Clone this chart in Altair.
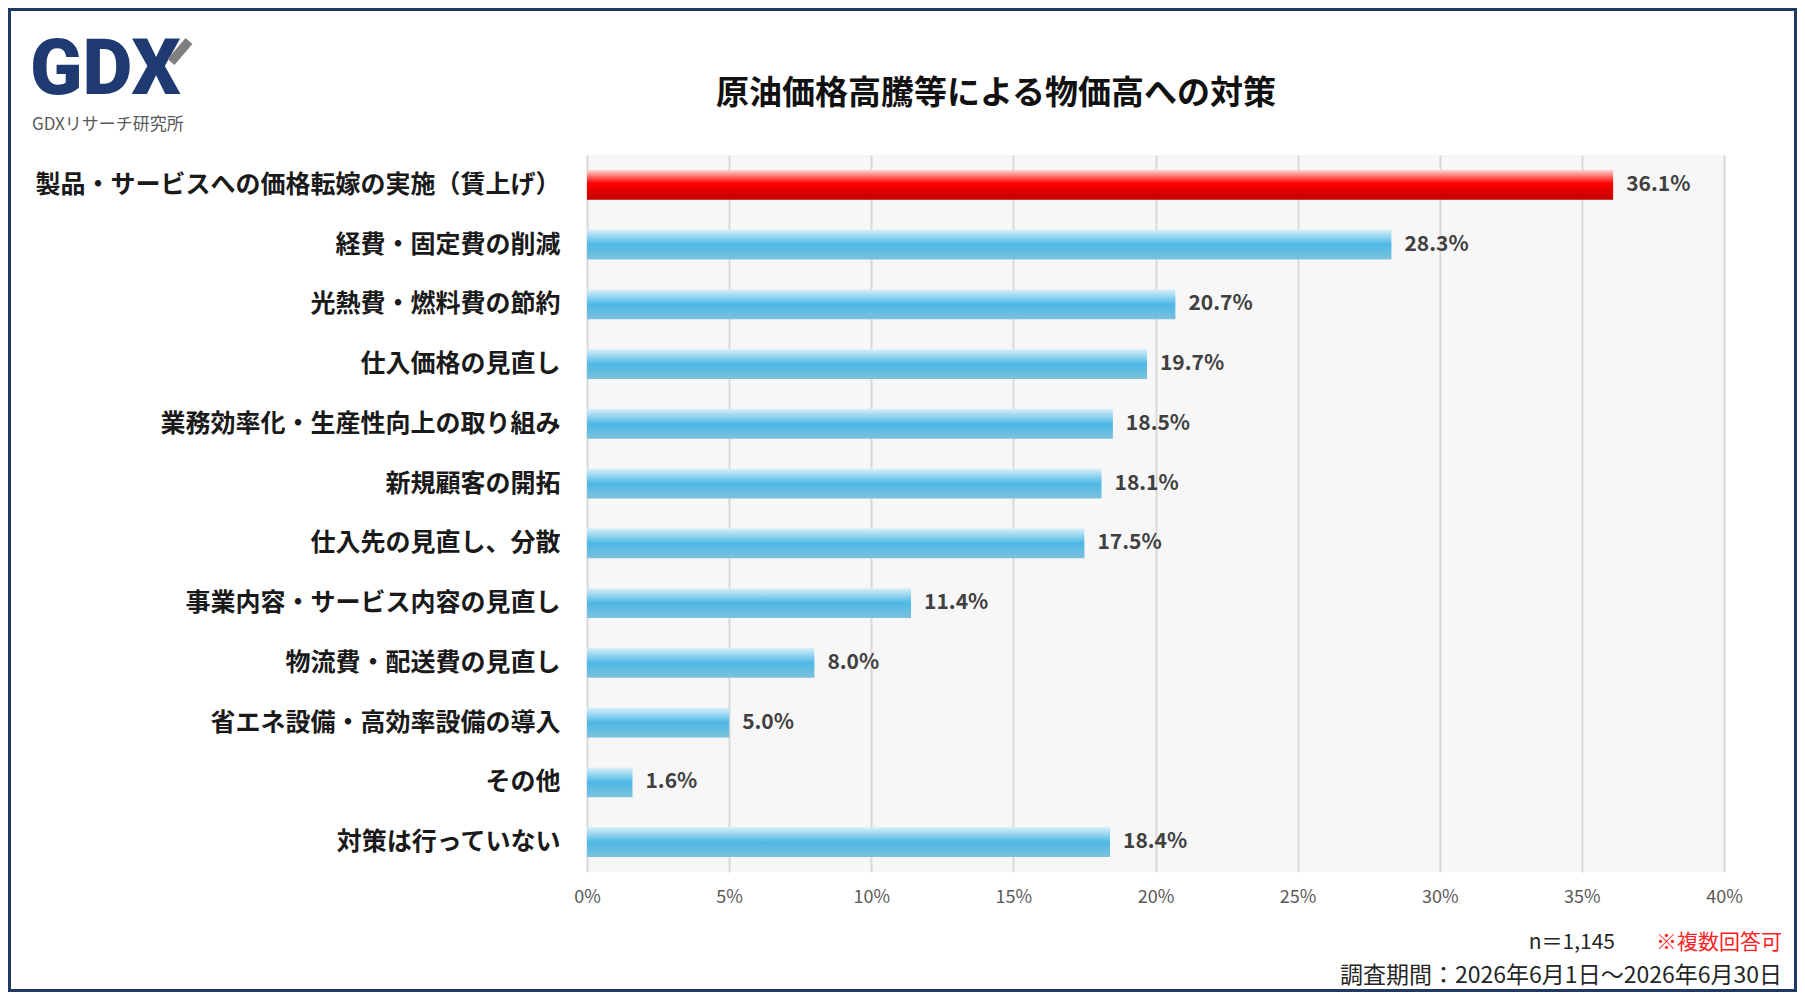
import altair as alt
import pandas as pd

categories = [
    "製品・サービスへの価格転嫁の実施（賃上げ）",
    "経費・固定費の削減",
    "光熱費・燃料費の節約",
    "仕入価格の見直し",
    "業務効率化・生産性向上の取り組み",
    "新規顧客の開拓",
    "仕入先の見直し、分散",
    "事業内容・サービス内容の見直し",
    "物流費・配送費の見直し",
    "省エネ設備・高効率設備の導入",
    "その他",
    "対策は行っていない",
]
values = [36.1, 28.3, 20.7, 19.7, 18.5, 18.1, 17.5, 11.4, 8.0, 5.0, 1.6, 18.4]
highlight = [True] + [False] * 11
x_ticks = [0, 5, 10, 15, 20, 25, 30, 35, 40]

title_text = "原油価格高騰等による物価高への対策"
logo_text = "GDX"
logo_sub = "GDXリサーチ研究所"
n_text = "n＝1,145"
note_text = "※複数回答可"
period_text = "調査期間：2026年6月1日～2026年6月30日"

FONT = "Noto Sans CJK JP"
W, H = 1137, 717
PAD_L, PAD_T = 579, 147
TOTAL_W, TOTAL_H = 1789, 984

df = pd.DataFrame({"cat": categories, "val": values, "hl": highlight})
df["label"] = [f"{v:.1f}%" for v in values]

y_enc = alt.Y(
    "cat:N",
    sort=categories,
    scale=alt.Scale(paddingInner=0.5, paddingOuter=0.25),
    axis=alt.Axis(
        title=None, ticks=False, domain=False, labelFontSize=25,
        labelFont=FONT, labelFontWeight="bold", labelColor="#1a1a1a",
        labelPadding=27, labelLimit=0, grid=False,
    ),
)
x_enc = alt.X(
    "val:Q",
    scale=alt.Scale(domain=[0, 40], nice=False),
    axis=alt.Axis(
        title=None, values=x_ticks, labelExpr="datum.value + '%'",
        ticks=False, domain=False, grid=True, gridColor="#d9d9d9",
        gridWidth=2, labelFontSize=18, labelFont=FONT, labelColor="#595959",
        labelPadding=16, labelFlush=False,
    ),
)

blue_grad = alt.Gradient(
    gradient="linear", x1=0, x2=0, y1=0, y2=1,
    stops=[
        alt.GradientStop(color="#d8eff9", offset=0),
        alt.GradientStop(color="#4db8e5", offset=0.5),
        alt.GradientStop(color="#7cc1dd", offset=1),
    ],
)
red_grad = alt.Gradient(
    gradient="linear", x1=0, x2=0, y1=0, y2=1,
    stops=[
        alt.GradientStop(color="#ffd6d6", offset=0),
        alt.GradientStop(color="#ff0000", offset=0.45),
        alt.GradientStop(color="#c00000", offset=1),
    ],
)

base = alt.Chart(df)
blue = base.transform_filter("!datum.hl").mark_bar(color=blue_grad).encode(x=x_enc, y=y_enc)
red = base.transform_filter("datum.hl").mark_bar(color=red_grad).encode(x=x_enc, y=y_enc)
labels = base.mark_text(
    align="left", baseline="middle", dx=13, font=FONT, fontSize=21,
    fontWeight="bold", color="#404040",
).encode(x="val:Q", y=alt.Y("cat:N", sort=categories), text="label:N")


def txt(t, x, y, font=FONT, **kw):
    return alt.Chart(pd.DataFrame({"t": [t]})).mark_text(font=font, **kw).encode(
        x=alt.value(x), y=alt.value(y), text="t:N"
    )


title = txt(title_text, 409, -61, fontSize=33, fontWeight="bold", color="#111111",
            align="center", baseline="middle")
logo = txt(logo_text, -557, -61, font="Roboto", fontSize=77, fontWeight=900,
           color="#1f3a70", align="left", baseline="alphabetic")
logo_slash = alt.Chart(pd.DataFrame({"t": [0]})).mark_rule(
    color="#7f7f7f", strokeWidth=9
).encode(x=alt.value(-416), x2=alt.value(-398), y=alt.value(-93), y2=alt.value(-114))
sub = txt(logo_sub, -555, -30, fontSize=17, color="#595959", align="left",
          baseline="middle")
n_lbl = txt(n_text, 1028, 788, fontSize=21, color="#262626", align="right",
            baseline="middle")
note = txt(note_text, 1195, 788, fontSize=21, color="#ff1f1f", align="right",
           baseline="middle")
period = txt(period_text, 1195, 821, fontSize=23, color="#262626", align="right",
             baseline="middle")
border = alt.Chart(pd.DataFrame({"t": [0]})).mark_rect(
    filled=False, stroke="#1f3864", strokeWidth=3
).encode(
    x=alt.value(-PAD_L + 1.5), x2=alt.value(TOTAL_W - PAD_L - 1.5),
    y=alt.value(-PAD_T + 1.5), y2=alt.value(TOTAL_H - PAD_T - 1.5),
)

chart = alt.layer(
    blue, red, labels, title, logo, logo_slash, sub, n_lbl, note, period, border
).properties(
    width=W, height=H,
    autosize=alt.AutoSizeParams(type="none"),
    padding={"left": PAD_L, "top": PAD_T, "right": TOTAL_W - PAD_L - W,
             "bottom": TOTAL_H - PAD_T - H},
    background="white",
).configure_view(fill="#f7f7f7", stroke=None)

chart.save("out.html", embed_options={"renderer": "svg", "actions": False})
